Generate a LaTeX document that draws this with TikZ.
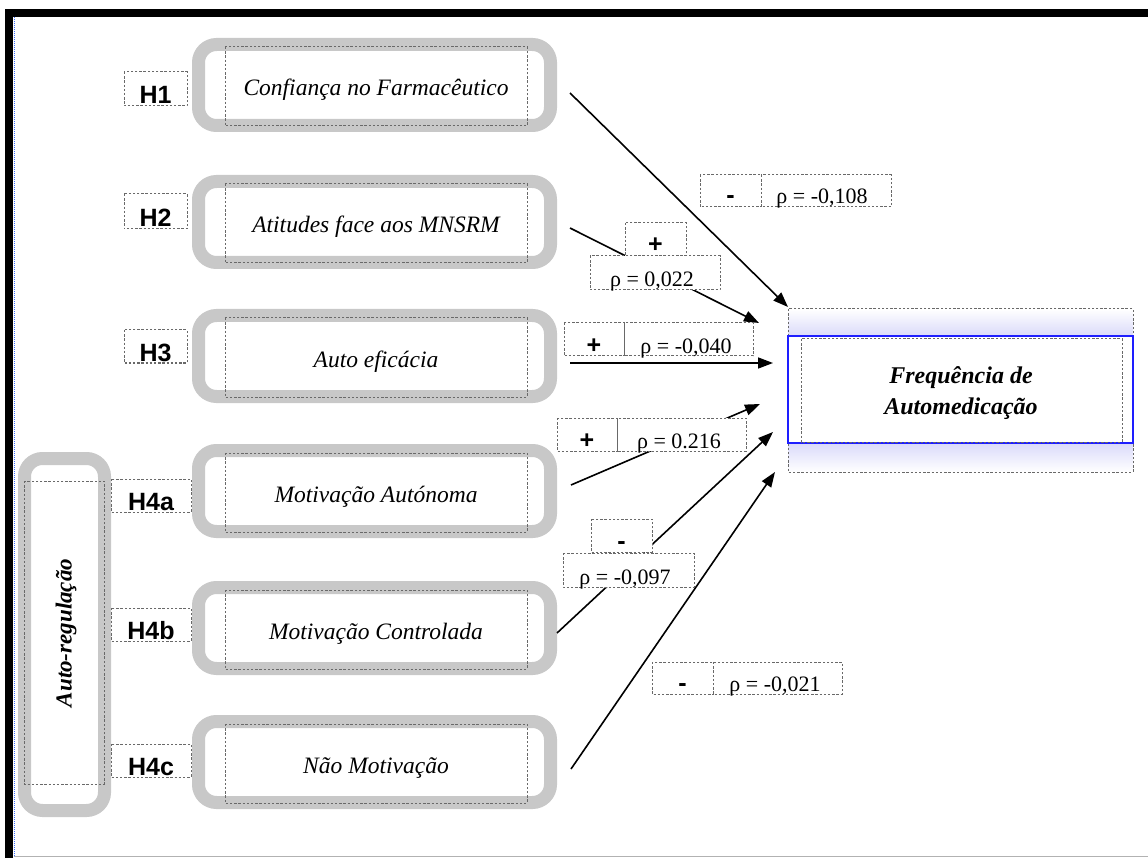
\documentclass[tikz,border=0pt]{standalone}
\usepackage{fontspec}
\setmainfont{Liberation Serif}
\newfontfamily\arialfont{Liberation Sans}
\usetikzlibrary{arrows.meta}
\definecolor{boxgray}{RGB}{200,200,200}
\definecolor{dotgray}{RGB}{105,105,105}
\definecolor{lav}{RGB}{218,218,250}
\definecolor{frameblue}{RGB}{60,110,255}
\definecolor{tgtblue}{RGB}{30,30,255}
\begin{document}
\begin{tikzpicture}[x=1pt,y=-1pt,
  graybox/.style={draw=boxgray, line width=13pt, rounded corners=18pt, minimum width=352pt, minimum height=81pt, inner sep=0pt},
  dotbox/.style={draw=dotgray, line width=1pt, dash pattern=on 2.4pt off 1.8pt},
  dotfill/.style={dotbox, fill=white},
  hyptext/.style={font=\fontsize{23.5}{26}\selectfont\itshape, anchor=base, inner sep=0pt},
  htext/.style={font=\arialfont\bfseries\fontsize{25}{28}\selectfont, anchor=base, inner sep=0pt},
  rhotext/.style={font=\fontsize{22}{24}\selectfont, anchor=base, inner sep=0pt},
  signtext/.style={font=\arialfont\bfseries\fontsize{25}{27}\selectfont, anchor=base, inner sep=0pt},
  tgttext/.style={font=\fontsize{24}{28}\selectfont\bfseries\itshape, anchor=base, inner sep=0pt},
  arr/.style={line width=1.6pt, -{Triangle[length=15pt,width=11pt]}}
]
\useasboundingbox (0,0) rectangle (1148,858);
\fill[white] (0,0) rectangle (1148,858);
% frame
\fill[black] (5,9) rectangle (1148,17);
\fill[black] (5,9) rectangle (13,858);
\draw[frameblue, line width=1.2pt, dash pattern=on 1pt off 1pt] (14.5,17) -- (14.5,856);
\draw[black!30, line width=1.5pt] (14,856.5) -- (1148,856.5);

% hypothesis boxes
\foreach \n/\t/\txt in {1/38/{Confiança no Farmacêutico},2/175/{Atitudes face aos MNSRM},3/309/{Auto eficácia},4/444/{Motivação Autónoma},5/581/{Motivação Controlada},6/715/{Não Motivação}}{
  \node[graybox] (g\n) at (374.5,\t+47) {};
  \draw[dotbox] (225,\t+9) rectangle (527,\t+88);
  \node[hyptext] (t\n) at (376,\t+58) {\txt};
}

% Auto-regulacao
\node[graybox, minimum width=80pt, minimum height=352pt] (ar) at (64.5,634.5) {};
\draw[dotbox] (24,481) rectangle (104,784);
\node[font=\fontsize{23}{26}\selectfont\bfseries\itshape, rotate=90, inner sep=0pt] (artext) at (66,633) {Auto-regulação};

% H labels
\foreach \n/\xa/\xb/\ya/\yb/\txt in {h1/124/187/72/106/H1,h2/124/187/194/229/H2,h3/124/187/330/363/H3,h4a/111/191/479/512/H4a,h4b/111/191/608/641/H4b,h4c/111/191/744/777/H4c}{
  \draw[dotbox] (\xa,\ya) rectangle (\xb,\yb);
  \node[htext] (\n) at ({(\xa+\xb)/2},\yb-2) {\txt};
}

% target
\shade[top color=white, bottom color=lav] (788,309) rectangle (1133,336);
\shade[top color=lav, bottom color=white] (788,443) rectangle (1133,472);
\draw[dotbox] (788,309) rectangle (1133,472);
\node[draw=tgtblue, line width=1.6pt, minimum width=345pt, minimum height=107pt, inner sep=0pt, fill=white] (tgt) at (960.5,389.5) {};
\draw[dotbox] (801,339) rectangle (1122,442);
\node[tgttext] (tg1) at (961,383) {Frequência de};
\node[tgttext] (tg2) at (961,414) {Automedicação};

% connector end points
\coordinate (s1) at (570,93);   \coordinate (e1) at (788,307);
\coordinate (s2) at (570,228);  \coordinate (e2) at (759,323);
\coordinate (s3) at (570,363);  \coordinate (e3) at (773,363);
\coordinate (s4) at (571,485);  \coordinate (e4) at (760,404);
\coordinate (s5) at (557,633);  \coordinate (e5) at (773,432);
\coordinate (s6) at (571,769);  \coordinate (e6) at (775,472);
\foreach \i in {1,...,6}{ \draw[arr] (s\i) -- (e\i); }

% coefficient labels
% L1
\draw[dotfill] (700,175) rectangle (761,207);
\draw[dotfill] (761,175) rectangle (891,207);
\node[signtext] (l1s) at (730.5,204) {-};
\node[rhotext] (l1r) at (822,204) {ρ = -0,108};
% L2
\draw[dotfill] (625,223) rectangle (686,256);
\draw[dotfill] (590,256) rectangle (720,290);
\node[signtext] (l2s) at (655.5,253) {+};
\node[rhotext] (l2r) at (652,287) {ρ = 0,022};
% L3
\draw[dotfill] (564,323) rectangle (624.5,356);
\draw[dotfill] (624.5,323) rectangle (753,356);
\node[signtext] (l3s) at (594,353) {+};
\node[rhotext] (l3r) at (686,353) {ρ = -0,040};
% L4
\draw[dotfill] (557,418) rectangle (617.5,451);
\draw[dotfill] (617.5,418) rectangle (746,451);
\node[signtext] (l4s) at (587,448) {+};
\node[rhotext] (l4r) at (679,448) {ρ = 0.216};
% L5
\draw[dotfill] (591,519) rectangle (652,552);
\draw[dotfill] (563,553) rectangle (694,587);
\node[signtext] (l5s) at (621.5,549) {-};
\node[rhotext] (l5r) at (625,584) {ρ = -0,097};
% L6
\draw[dotfill] (652,662) rectangle (713,694);
\draw[dotfill] (713,662) rectangle (842,694);
\node[signtext] (l6s) at (682.5,691) {-};
\node[rhotext] (l6r) at (775,691) {ρ = -0,021};
\end{tikzpicture}
\end{document}
